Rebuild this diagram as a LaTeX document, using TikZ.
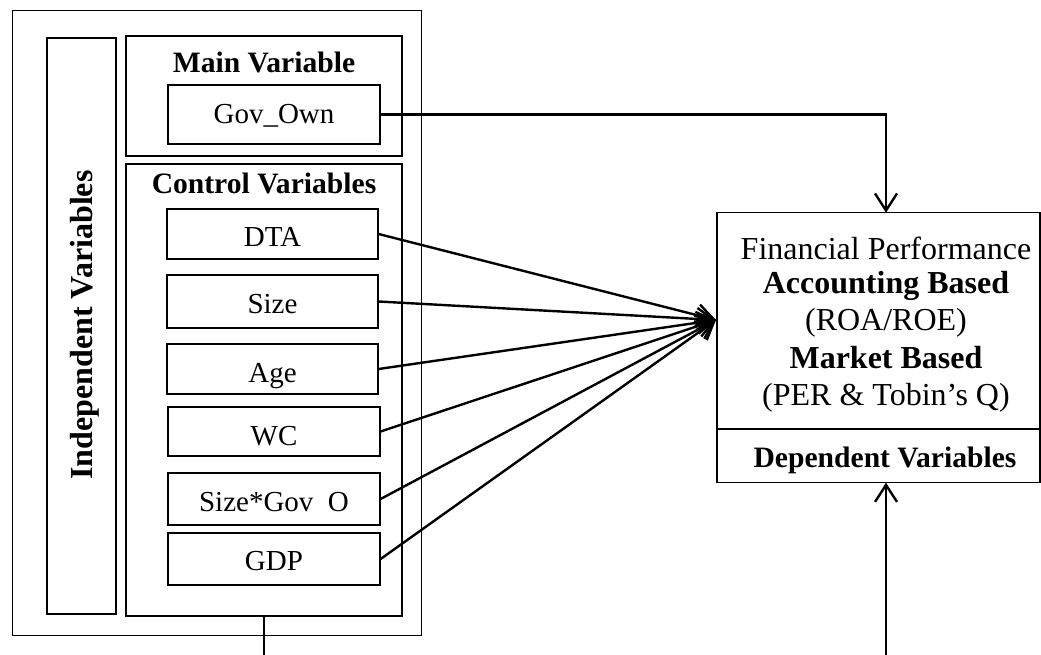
\documentclass[tikz,border=0pt]{standalone}
\usepackage{fontspec}
\setmainfont{Liberation Serif}
\usetikzlibrary{arrows.meta,fit}
\begin{document}
\begin{tikzpicture}[x=1pt,y=-1pt,
  box/.style={draw, line width=1.2pt, inner sep=0pt},
  lbl/.style={anchor=base, inner sep=0pt, font=\fontsize{29}{34}\selectfont},
  blbl/.style={lbl, font=\fontsize{29.6}{34}\selectfont\bfseries},
  sidelbl/.style={lbl, font=\fontsize{32}{38}\selectfont\bfseries},
  biglbl/.style={lbl, font=\fontsize{32}{38}\selectfont},
  bigblbl/.style={lbl, font=\fontsize{32}{38}\selectfont\bfseries},
  link/.style={line width=2.4pt, -{Straight Barb[length=17pt,width=22pt]}},
  plain/.style={line width=2.4pt},
]
\useasboundingbox (0,0) rectangle (1041,655);

% left block: independent variables
\node[box, fit={(12.7,10.7) (421.7,635.7)}] (outer) {};
\node[box, fit={(47,38) (116,614)}] (indep) {};
\node[sidelbl, rotate=90] (indeplbl) at (92,325) {Independent Variables};

\node[box, fit={(126,36) (402,156)}] (mainv) {};
\node[blbl] (mainlbl) at (264,73) {Main Variable};
\node[box, fit={(168,85) (380,144)}] (gov) {};
\node[lbl] (govlbl) at (274,124) {Gov\_Own};

\node[box, fit={(126,164) (402,616)}] (ctrl) {};
\node[blbl] (ctrllbl) at (264,194) {Control Variables};
\node[box, fit={(167,209) (378,259)}] (dta) {};
\node[lbl] (dtalbl) at (272.5,247) {DTA};
\node[box, fit={(167,275) (378,328)}] (size) {};
\node[lbl] (sizelbl) at (272.5,313) {Size};
\node[box, fit={(167,344) (378,394)}] (age) {};
\node[lbl] (agelbl) at (272.5,382) {Age};
\node[box, fit={(168,407) (380,456)}] (wc) {};
\node[lbl] (wclbl) at (274,445) {WC};
\node[box, fit={(168,473) (380,525)}] (sg) {};
\node[lbl] (sglbl) at (274,511) {Size*Gov\phantom{\_}O};
\node[box, fit={(168,533) (380,585)}] (gdp) {};
\node[lbl] (gdplbl) at (274,570) {GDP};

% right block: dependent variables
\node[box, fit={(717,212.7) (1040,482.7)}] (dep) {};
\coordinate (sepl) at (717,429);
\draw[line width=1.2pt] (sepl) -- (sepl -| dep.east);
\node[biglbl] (fp) at (886,259) {Financial Performance};
\node[bigblbl] (acc) at (886,293) {Accounting Based};
\node[biglbl] (roa) at (886,330) {(ROA/ROE)};
\node[bigblbl] (mkt) at (886,368) {Market Based};
\node[biglbl] (per) at (886,405) {(PER \& Tobin’s Q)};
\node[blbl] (deplbl) at (885,467) {Dependent Variables};

% connectors
\coordinate (tip) at (716,320);
\coordinate (topin) at (886,212.7);
\coordinate (botin) at (886,482.7);
\coordinate (botout) at (886,655);
\coordinate (ctrlout) at (264,655);

\draw[link] (gov.east) -| (topin);
\foreach \n in {dta,size,age,wc,sg,gdp}
  \draw[link] (\n.east) -- (tip);
\draw[plain] (ctrl.south) -- (ctrlout);
\draw[link] (botout) -- (botin);
\end{tikzpicture}
\end{document}
